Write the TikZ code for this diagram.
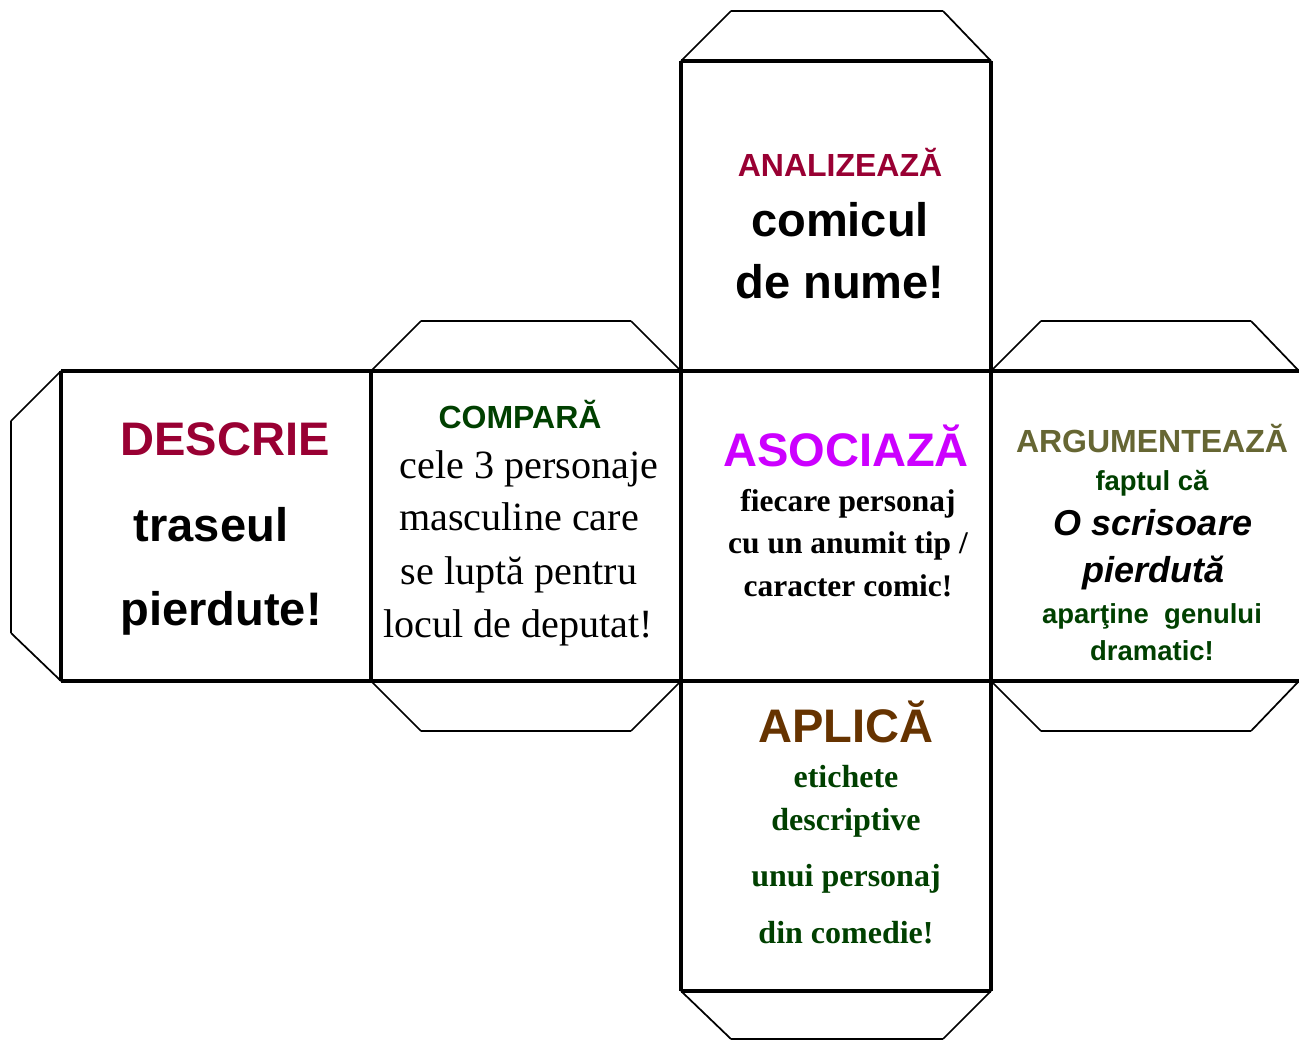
\documentclass[tikz,border=0pt]{standalone}
\usepackage{fontspec}
\setmainfont{Liberation Serif}
\setsansfont{Liberation Sans}
\definecolor{cmaroon}{HTML}{990033}
\definecolor{cgreen}{HTML}{004000}
\definecolor{colive}{HTML}{666633}
\definecolor{cmag}{HTML}{CC00FF}
\definecolor{cbrown}{HTML}{663300}
\newcommand{\fs}[1]{\fontsize{#1}{#1}\selectfont}
\tikzset{
  face/.style={line width=2.4pt},
  flapline/.style={line width=2.2pt},
  flapdiag/.style={line width=1.3pt},
  txt/.style={anchor=base, inner sep=0pt, align=center},
  bigsans/.style={txt, font=\sffamily\bfseries\fs{35.3pt}},
  midsans/.style={txt, font=\sffamily\bfseries\fs{24pt}},
}
\begin{document}
\begin{tikzpicture}[x=0.75pt,y=-0.75pt]
\useasboundingbox[fill=white] (0,0) rectangle (1299,1041);
% faces
\coordinate (L1) at (61,371); \coordinate (L2) at (371,371);
\coordinate (L3) at (681,371); \coordinate (L4) at (991,371);
\coordinate (L5) at (1310,371);
\coordinate (B1) at (61,681); \coordinate (B2) at (371,681);
\coordinate (B3) at (681,681); \coordinate (B4) at (991,681);
\coordinate (B5) at (1310,681);
\coordinate (T3) at (681,61); \coordinate (T4) at (991,61);
\coordinate (D3) at (681,991); \coordinate (D4) at (991,991);
\draw[face] (L1) -- (L5) (B1) -- (B5);
\draw[face] (L1) -- (B1) (L2) -- (B2) (T3) -- (D3) (T4) -- (D4);
\draw[face] (T3) -- (T4) (D3) -- (D4);
% flaps: top
\coordinate (ft1) at (731,11); \coordinate (ft2) at (943,11);
\draw[flapdiag] (T3) -- (ft1) (ft2) -- (T4);
\draw[flapline] (ft1) -- (ft2);
% bottom
\coordinate (fb1) at (731,1039); \coordinate (fb2) at (943,1039);
\draw[flapdiag] (D3) -- (fb1) (fb2) -- (D4);
\draw[flapline] (fb1) -- (fb2);
% left
\coordinate (fl1) at (11,421); \coordinate (fl2) at (11,633);
\draw[flapdiag] (L1) -- (fl1) (fl2) -- (B1);
\draw[flapline] (fl1) -- (fl2);
% compara top / bottom
\coordinate (fc1) at (421,321); \coordinate (fc2) at (631,321);
\coordinate (fc3) at (421,731); \coordinate (fc4) at (631,731);
\draw[flapdiag] (L2) -- (fc1) (fc2) -- (L3) (B2) -- (fc3) (fc4) -- (B3);
\draw[flapline] (fc1) -- (fc2) (fc3) -- (fc4);
% right top / bottom
\coordinate (fr1) at (1041,321); \coordinate (fr2) at (1251,321);
\coordinate (fr3) at (1041,731); \coordinate (fr4) at (1251,731);
\coordinate (fr5) at (1299,371); \coordinate (fr6) at (1299,681);
\draw[flapdiag] (L4) -- (fr1) (fr2) -- (fr5) (B4) -- (fr3) (fr4) -- (fr6);
\draw[flapline] (fr1) -- (fr2) (fr3) -- (fr4);

% top face text
\node[midsans, text=cmaroon] (an) at (840,177) {ANALIZEAZĂ};
\node[bigsans] (an1) at (840,237) {comicul};
\node[bigsans] (an2) at (840,299) {de nume!};
% left face
\node[bigsans, text=cmaroon] (de) at (225,455) {DESCRIE};
\node[bigsans] (de1) at (211,541) {traseul};
\node[bigsans] (de2) at (221,625) {pierdute!};
% compara
\node[midsans, text=cgreen] (co) at (520,428) {COMPARĂ};
\node[txt, font=\fs{30.1pt}] (co1) at (529,478) {cele 3 personaje};
\node[txt, font=\fs{30.1pt}] (co2) at (519,530) {masculine care};
\node[txt, font=\fs{30.1pt}] (co3) at (519,584) {se luptă pentru};
\node[txt, font=\fs{30.1pt}] (co4) at (518,637) {locul de deputat!};
% asociaza
\node[bigsans, text=cmag] (as) at (846,466) {ASOCIAZĂ};
\node[txt, font=\bfseries\fs{23.6pt}] (as1) at (848,511) {fiecare personaj};
\node[txt, font=\bfseries\fs{23.6pt}] (as2) at (848,553) {cu un anumit tip /};
\node[txt, font=\bfseries\fs{23.6pt}] (as3) at (848,596) {caracter comic!};
% argumenteaza
\node[midsans, text=colive] (ar) at (1152,452) {ARGUMENTEAZĂ};
\node[txt, font=\sffamily\bfseries\fs{20.6pt}, text=cgreen] (ar1) at (1152,490) {faptul că};
\node[txt, font=\sffamily\bfseries\itshape\fs{27pt}] (ar2) at (1153,535) {O scrisoare};
\node[txt, font=\sffamily\bfseries\itshape\fs{27pt}] (ar3) at (1153,582) {pierdută};
\node[txt, font=\sffamily\bfseries\fs{20.6pt}, text=cgreen] (ar4) at (1152,623) {aparţine\ \ genului};
\node[txt, font=\sffamily\bfseries\fs{20.6pt}, text=cgreen] (ar5) at (1152,660) {dramatic!};
% aplica
\node[bigsans, text=cbrown] (ap) at (846,742) {APLICĂ};
\node[txt, font=\bfseries\fs{24pt}, text=cgreen] (ap1) at (846,787) {etichete};
\node[txt, font=\bfseries\fs{24pt}, text=cgreen] (ap2) at (846,830) {descriptive};
\node[txt, font=\bfseries\fs{24pt}, text=cgreen] (ap3) at (846,886) {unui personaj};
\node[txt, font=\bfseries\fs{24pt}, text=cgreen] (ap4) at (846,943) {din comedie!};
\end{tikzpicture}
\end{document}
